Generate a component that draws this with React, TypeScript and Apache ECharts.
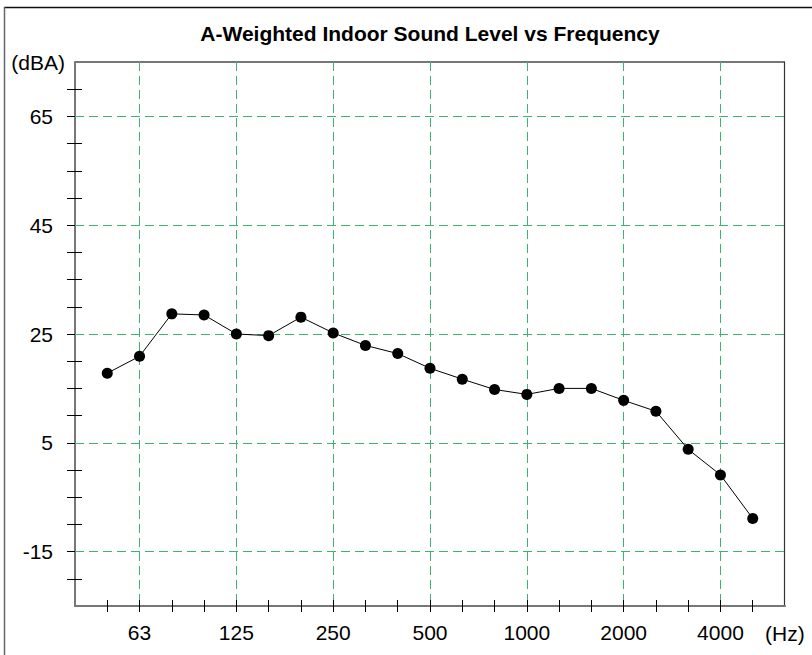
import React, { useEffect, useRef } from "react";
import * as echarts from "echarts";

const frequencies = ["50", "63", "80", "100", "125", "160", "200", "250", "315", "400", "500", "630", "800", "1000", "1250", "1600", "2000", "2500", "3150", "4000", "5000"];
const levels = [17.8, 20.9, 28.7, 28.5, 25.0, 24.7, 28.1, 25.2, 22.9, 21.4, 18.7, 16.7, 14.8, 13.9, 15.0, 15.0, 12.8, 10.8, 3.8, -0.9, -8.9];
const xLabels = ["63", "125", "250", "500", "1000", "2000", "4000"];
const yLabels = [65, 45, 25, 5, -15];
const yTicks = [-20, -15, -10, -5, 0, 5, 10, 15, 20, 25, 30, 35, 40, 45, 50, 55, 60, 65, 70];
const yMin = -25;
const yMax = 75;

const FONT = "'Liberation Sans', Arial, Helvetica, sans-serif";
const GREEN = "#3cb371";

export default function App() {
  const ref = useRef<HTMLDivElement>(null);
  useEffect(() => {
    document.body.style.margin = "0";
    const chart = echarts.init(ref.current!, undefined, { renderer: "svg" });
    const axisData = ["", ...frequencies, ""];
    const last = axisData.length - 1;
    const isLabel = (v: string) => xLabels.indexOf(v) >= 0;
    chart.setOption({
      animation: false,
      backgroundColor: "#fff",
      title: {
        text: "A-Weighted Indoor Sound Level vs Frequency",
        left: 425,
        top: 18,
        textAlign: "center",
        textStyle: { fontFamily: FONT, fontSize: 21, fontWeight: "bold", color: "#000" },
      },
      grid: { left: 75, top: 62, right: 27, bottom: 49, containLabel: false },
      xAxis: [
        {
          type: "category",
          data: axisData,
          boundaryGap: false,
          position: "bottom",
          axisLine: { show: true, onZero: false, lineStyle: { color: "#777", width: 2 } },
          axisTick: { show: true, length: 6, interval: (i: number) => i > 0 && i < last, lineStyle: { color: "#000", width: 1 } },
          axisLabel: {
            show: true,
            interval: (_i: number, v: string) => isLabel(v),
            margin: 16,
            fontFamily: FONT,
            fontSize: 21,
            color: "#000",
          },
          splitLine: {
            show: true,
            interval: (_i: number, v: string) => isLabel(v),
            lineStyle: { color: GREEN, type: [9, 5], width: 1 },
          },
        },
        {
          type: "category",
          data: axisData,
          boundaryGap: false,
          position: "bottom",
          axisLine: { show: false, onZero: false },
          axisTick: { show: true, inside: true, length: 6, interval: (i: number) => i > 0 && i < last, lineStyle: { color: "#000", width: 1 } },
          axisLabel: { show: false },
          splitLine: { show: false },
        },
      ],
      yAxis: [
        {
          type: "value",
          min: yMin,
          max: yMax,
          interval: 5,
          position: "left",
          axisLine: { show: true, onZero: false, lineStyle: { color: "#777", width: 2 } },
          axisTick: { show: true, length: 8, customValues: yTicks, lineStyle: { color: "#000", width: 1 } },
          axisLabel: {
            show: true,
            customValues: yLabels,
            formatter: (v: number) => (yLabels.indexOf(v) >= 0 ? String(v) : ""),
            margin: 22,
            fontFamily: FONT,
            fontSize: 21,
            color: "#000",
          },
          splitLine: { show: false },
        },
        {
          type: "value",
          min: yMin,
          max: yMax,
          interval: 5,
          position: "left",
          axisLine: { show: false, onZero: false },
          axisTick: { show: true, inside: true, length: 7, customValues: yTicks, lineStyle: { color: "#000", width: 1 } },
          axisLabel: { show: false },
          splitLine: { show: false },
        },
      ],
      graphic: [
        { type: "line", shape: { x1: 4, y1: 7.5, x2: 812, y2: 7.5 }, style: { stroke: "#111", lineWidth: 1.5 } },
        { type: "line", shape: { x1: 4.5, y1: 7, x2: 4.5, y2: 655 }, style: { stroke: "#666", lineWidth: 1.5 } },
        { type: "line", shape: { x1: 75, y1: 62, x2: 785, y2: 62 }, style: { stroke: "#777", lineWidth: 2 } },
        { type: "line", shape: { x1: 784.5, y1: 62, x2: 784.5, y2: 606 }, style: { stroke: "#333", lineWidth: 1.2 } },
        {
          type: "text",
          x: 65,
          y: 62,
          style: { text: "(dBA)", fontFamily: FONT, fontSize: 21, fill: "#000", align: "right", verticalAlign: "middle" },
        },
        {
          type: "text",
          x: 765,
          y: 633,
          style: { text: "(Hz)", fontFamily: FONT, fontSize: 21, fill: "#000", align: "left", verticalAlign: "middle" },
        },
      ],
      series: [
        {
          type: "line",
          z: 1,
          data: [],
          silent: true,
          markLine: {
            silent: true,
            z: 1,
            symbol: ["none", "none"],
            label: { show: false },
            lineStyle: { color: GREEN, type: [9, 5], width: 1 },
            data: yLabels.map((v) => ({ yAxis: v })),
          },
        },
        {
          type: "line",
          z: 3,
          data: levels.map((v, i) => [i + 1, v]),
          symbol: "circle",
          symbolSize: 11,
          showSymbol: true,
          itemStyle: { color: "#000" },
          lineStyle: { color: "#000", width: 1 },
        },
      ],
    });
    return () => chart.dispose();
  }, []);
  return <div ref={ref} style={{ width: 812, height: 655 }} />;
}
